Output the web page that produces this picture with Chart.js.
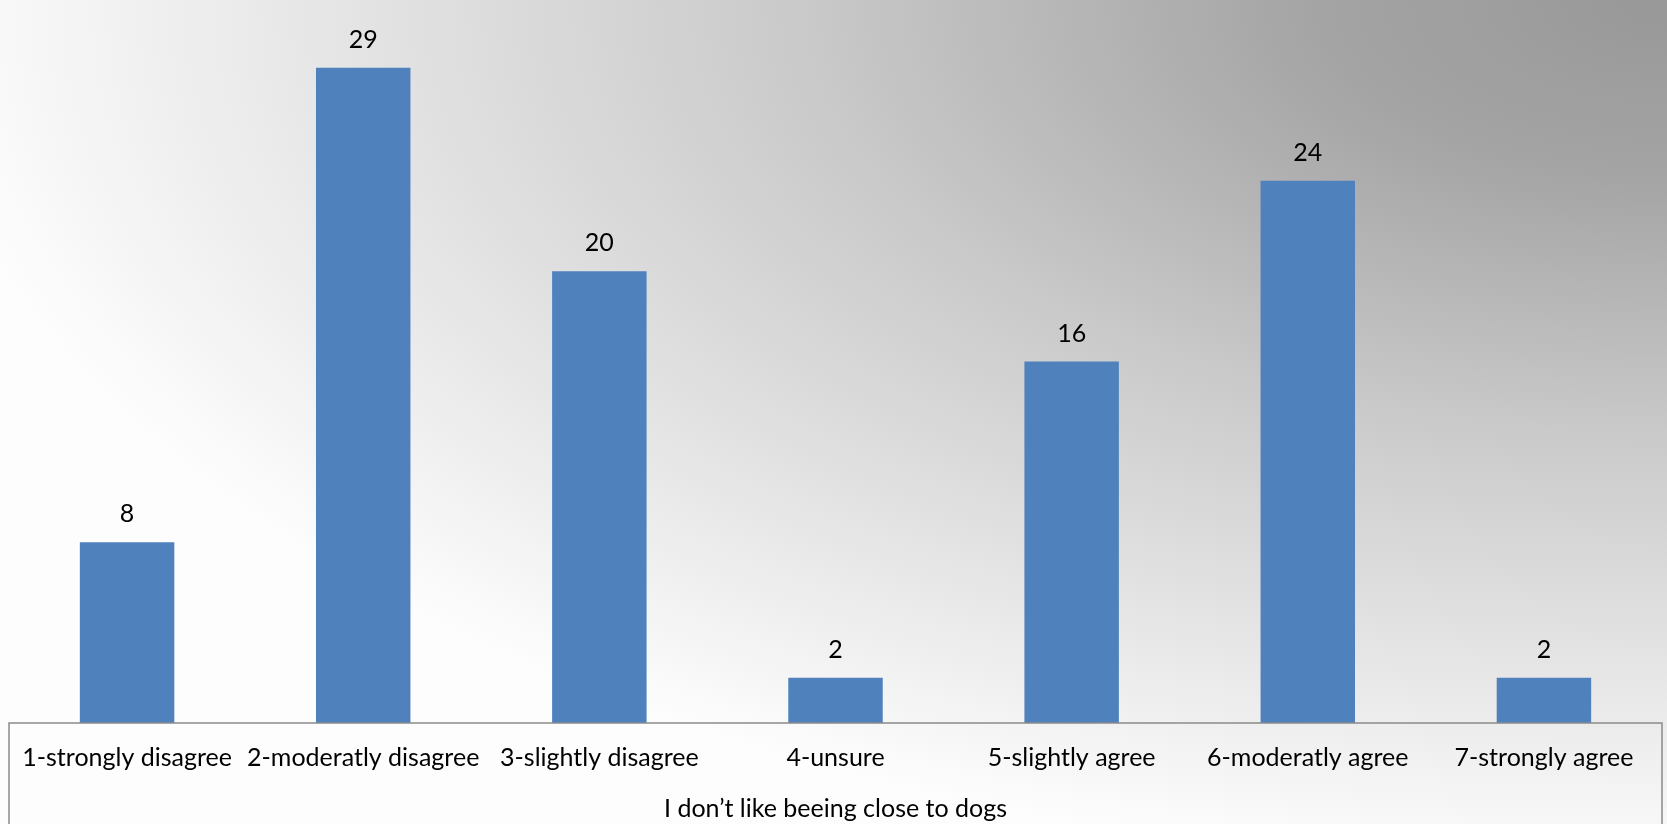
<!DOCTYPE html>
<html>
<head>
<meta charset="utf-8">
<script src="https://cdn.jsdelivr.net/npm/chart.js@4"></script>
<style>
html,body{margin:0;padding:0;background:#fff;}
#wrap{width:1667px;height:824px;position:relative;}
</style>
</head>
<body>
<div id="wrap"><canvas id="c"></canvas></div>
<script>
const categories = ["1-strongly disagree","2-moderatly disagree","3-slightly disagree","4-unsure","5-slightly agree","6-moderatly agree","7-strongly agree"];
const values = [8, 29, 20, 2, 16, 24, 2];
const axisTitle = "I don’t like beeing close to dogs";
const yMax = 32;

const FONT = "Lato, 'Open Sans', sans-serif";
const FSIZE = 25;

const bgPlugin = {
  id: 'bg',
  beforeDraw(chart) {
    const ctx = chart.ctx;
    const w = chart.width, h = chart.height;
    ctx.save();
    ctx.translate(w, 0);
    ctx.scale(1, 0.5);
    const g = ctx.createRadialGradient(0, 0, 0, 0, 0, 1750);
    g.addColorStop(0, '#989898');
    g.addColorStop(0.2, '#a4a4a4');
    g.addColorStop(0.5, '#cacaca');
    g.addColorStop(0.8, '#e9e9e9');
    g.addColorStop(1, '#fdfdfd');
    ctx.fillStyle = g;
    ctx.fillRect(-w, 0, w, h * 2);
    ctx.restore();
  }
};

const boxPlugin = {
  id: 'box',
  afterDraw(chart) {
    const ctx = chart.ctx;
    const a = chart.chartArea;
    ctx.save();
    ctx.strokeStyle = '#8a8a8a';
    ctx.lineWidth = 1.5;
    ctx.beginPath();
    ctx.moveTo(a.left, chart.height + 2);
    ctx.lineTo(a.left, a.bottom);
    ctx.lineTo(a.right, a.bottom);
    ctx.lineTo(a.right, chart.height + 2);
    ctx.stroke();
    ctx.restore();
  }
};

const labelPlugin = {
  id: 'vlabels',
  afterDatasetsDraw(chart) {
    const ctx = chart.ctx;
    const meta = chart.getDatasetMeta(0);
    ctx.save();
    ctx.font = FSIZE + "px " + FONT;
    ctx.fillStyle = '#000';
    ctx.textAlign = 'center';
    ctx.textBaseline = 'middle';
    meta.data.forEach((bar, i) => {
      ctx.fillText(String(values[i]), bar.x, bar.y - 28);
    });
    ctx.restore();
  }
};

new Chart(document.getElementById('c'), {
  type: 'bar',
  data: {
    labels: categories,
    datasets: [{
      data: values,
      backgroundColor: '#4F81BD',
      borderWidth: 0,
      barPercentage: 0.4,
      categoryPercentage: 1.0
    }]
  },
  options: {
    responsive: true,
    maintainAspectRatio: false,
    animation: false,
    devicePixelRatio: 1,
    layout: { padding: { left: 9, right: 5, top: 0, bottom: 0 } },
    plugins: { legend: { display: false }, tooltip: { enabled: false } },
    scales: {
      y: { display: false, min: 0, max: yMax },
      x: {
        grid: { display: false, drawTicks: false },
        border: { display: false },
        ticks: { padding: 20, color: '#000', font: { family: FONT, size: FSIZE }, maxRotation: 0, autoSkip: false },
        title: { display: true, text: axisTitle, color: '#000', font: { family: FONT, size: FSIZE }, padding: { top: 1, bottom: 0 } }
      }
    }
  },
  plugins: [bgPlugin, labelPlugin, boxPlugin]
});
</script>
</body>
</html>
